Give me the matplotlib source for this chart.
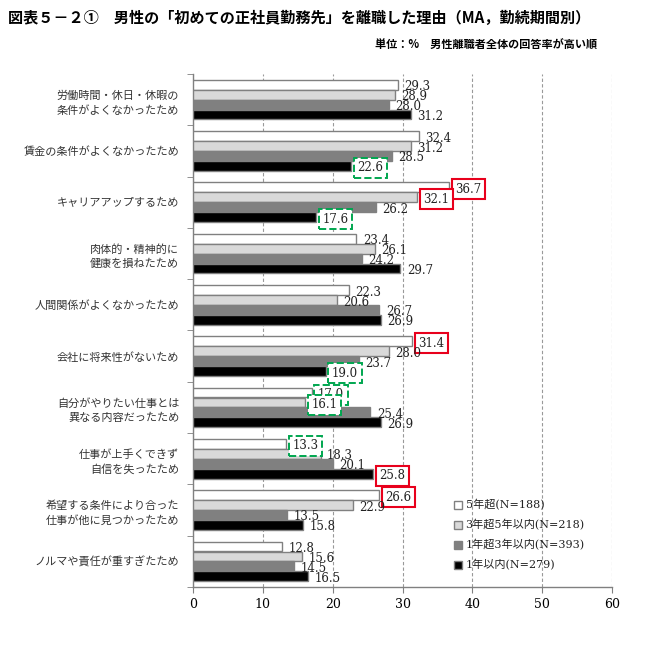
import numpy as np
import matplotlib
matplotlib.use("Agg")
import matplotlib.pyplot as plt

plt.rcParams["font.family"] = ["DejaVu Serif", "Noto Sans CJK JP"]

# categories (top to bottom)
reasons = [
    "労働時間・休日・休暇の\n条件がよくなかったため",
    "賃金の条件がよくなかったため",
    "キャリアアップするため",
    "肉体的・精神的に\n健康を損ねたため",
    "人間関係がよくなかったため",
    "会社に将来性がないため",
    "自分がやりたい仕事とは\n異なる内容だったため",
    "仕事が上手くできず\n自信を失ったため",
    "希望する条件により合った\n仕事が他に見つかったため",
    "ノルマや責任が重すぎたため",
]

series_names = ["5年超(N=188)", "3年超5年以内(N=218)", "1年超3年以内(N=393)", "1年以内(N=279)"]
over5 = [29.3, 32.4, 36.7, 23.4, 22.3, 31.4, 17.0, 13.3, 26.6, 12.8]
y3to5 = [28.9, 31.2, 32.1, 26.1, 20.6, 28.0, 16.1, 18.3, 22.9, 15.6]
y1to3 = [28.0, 28.5, 26.2, 24.2, 26.7, 23.7, 25.4, 20.1, 13.5, 14.5]
under1 = [31.2, 22.6, 17.6, 29.7, 26.9, 19.0, 26.9, 25.8, 15.8, 16.5]
series = [over5, y3to5, y1to3, under1]

# highlighted labels: (category index, series index)
red_boxes = [(2, 0), (2, 1), (5, 0), (7, 3), (8, 0)]
green_boxes = [(1, 3), (2, 3), (5, 3), (6, 0), (6, 1), (7, 0)]

fills = ["white", "#d9d9d9", "#808080", "black"]
edge = "#808080"

fig = plt.figure(figsize=(6.55, 6.45), dpi=100)
ax = fig.add_axes([0.2947, 0.0899, 0.6397, 0.7954])

ypos = np.arange(len(reasons))
h = 0.19
offsets = [-0.29, -0.095, 0.095, 0.29]

for s, vals in enumerate(series):
    ax.barh(ypos + offsets[s], vals, height=h, color=fills[s], edgecolor=edge,
            linewidth=1.0, label=series_names[s], zorder=3)
    for i, v in enumerate(vals):
        box = None
        if (i, s) in red_boxes:
            box = dict(boxstyle="square,pad=0.3", fc="white", ec="#e8001c", lw=1.5)
        elif (i, s) in green_boxes:
            box = dict(boxstyle="square,pad=0.3", fc="white", ec="#00a64f", lw=1.4, ls="--")
        ax.text(v + 0.9, ypos[i] + offsets[s] + 0.04, f"{v:.1f}", fontsize=8.5,
                family="DejaVu Serif", color="#222222", va="center", ha="left",
                bbox=box, zorder=4)

ax.set_xlim(0, 60)
ax.set_ylim(9.5, -0.5)
ax.set_xticks(range(0, 61, 10))
ax.tick_params(axis="x", direction="out", length=4, color=edge, labelsize=9, pad=4)
ax.set_yticks(ypos)
ax.set_yticklabels(reasons, family="Noto Sans CJK JP", fontsize=8, color="#333333",
                   linespacing=1.5)
ax.tick_params(axis="y", length=0, pad=10)
ax.set_yticks(np.arange(-0.5, 10, 1), minor=True)
ax.tick_params(axis="y", which="minor", direction="out", length=4, color=edge)

ax.grid(axis="x", color="#999999", linestyle=(0, (3, 2)), linewidth=0.8, zorder=0)
for side in ["top", "right"]:
    ax.spines[side].set_visible(False)
for side in ["left", "bottom"]:
    ax.spines[side].set_color(edge)
    ax.spines[side].set_linewidth(1.0)

leg = ax.legend(loc="upper left", bbox_to_anchor=(0.6, 0.19), frameon=False,
                fontsize=8, handlelength=0.7, handleheight=0.7, labelspacing=0.8,
                handletextpad=0.3)
for t in leg.get_texts():
    t.set_color("#222222")

fig.text(0.012, 0.972, "図表５－２①　男性の「初めての正社員勤務先」を離職した理由（MA，勤続期間別）",
         family="Noto Sans CJK JP", fontweight="bold", fontsize=10.9, va="center", ha="left")
fig.text(0.912, 0.930, "単位：%　男性離職者全体の回答率が高い順",
         family="Noto Sans CJK JP", fontweight="bold", fontsize=8, va="center", ha="right")

fig.savefig("out.png", dpi=100)
